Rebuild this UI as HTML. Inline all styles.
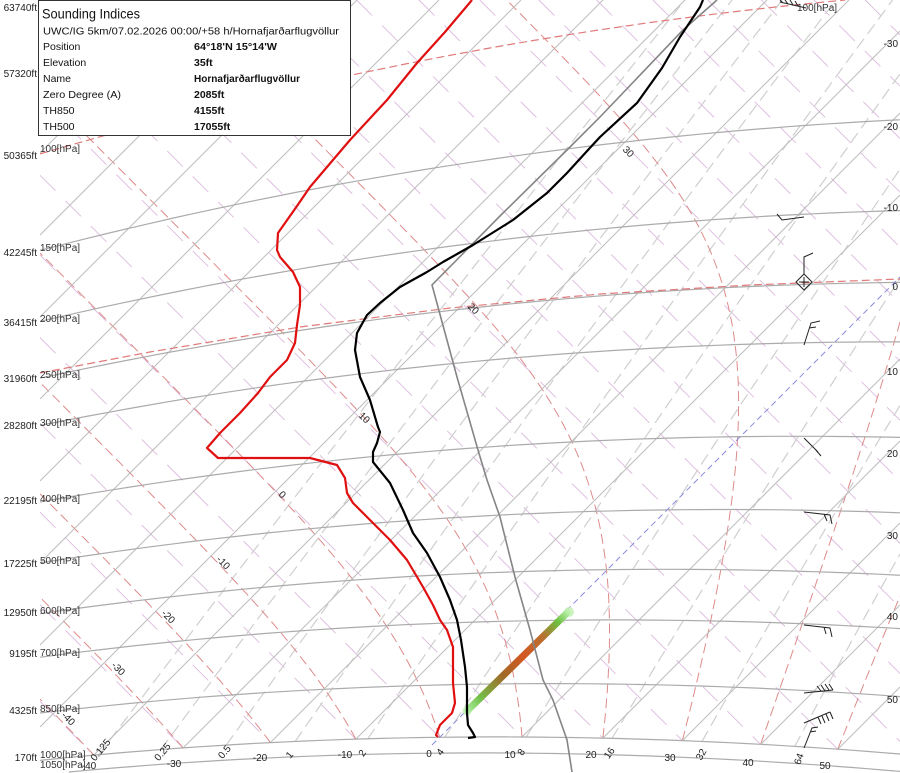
<!DOCTYPE html>
<html><head><meta charset="utf-8"><title>Sounding</title>
<style>
html,body{margin:0;padding:0;background:#fff;width:900px;height:773px;overflow:hidden;}
svg{display:block;overflow:hidden;font-family:"Liberation Sans",sans-serif;}
</style></head><body>
<svg id="s" width="900" height="773" viewBox="0 0 900 773" xmlns="http://www.w3.org/2000/svg">
<defs>
<clipPath id="cp"><polygon id="cpp" points="0,0 900,0 900,772 0,772"/></clipPath>
<clipPath id="cl"><rect x="40" y="0" width="860" height="773"/></clipPath>
<clipPath id="all"><rect x="0" y="0" width="900" height="773"/></clipPath>
<linearGradient id="ice" x1="468" y1="710" x2="568" y2="612" gradientUnits="userSpaceOnUse">
<stop offset="0" stop-color="#a8ec98"/>
<stop offset="0.12" stop-color="#74c04a"/>
<stop offset="0.35" stop-color="#a06a28"/>
<stop offset="0.55" stop-color="#d45822"/>
<stop offset="0.75" stop-color="#b87030"/>
<stop offset="0.9" stop-color="#6cc040"/>
<stop offset="1" stop-color="#b8f0a8"/>
</linearGradient>
</defs>
<g clip-path="url(#all)">
<rect width="900" height="773" fill="#fff"/>
<g clip-path="url(#cl)"><g id="grid" clip-path="url(#cp)"></g></g>
<g id="iso" clip-path="url(#cl)"></g>

<polyline points="40,373 150,352 300,327 450,308 600,294 750,285 900,279" fill="none" stroke="#e07a7a" stroke-width="1.2" stroke-dasharray="8 4"/>
<line x1="432" y1="745" x2="900" y2="277" stroke="#8a8ae0" stroke-width="1" stroke-dasharray="6 4"/>

<circle cx="569" cy="612" r="5" fill="#c0f0b0" opacity="0.8"/>
<circle cx="467" cy="711" r="4.5" fill="#c0f0b0" opacity="0.8"/>
<line x1="468" y1="710" x2="567" y2="613" stroke="url(#ice)" stroke-width="7" stroke-linecap="round"/>

<polyline points="717,0 683,30 600,117 567,150 500,216 432,285 457,377 478,450 487,480 500,517 515,577 530,630 543,680 553,700 567,740 572,772" fill="none" stroke="#858585" stroke-width="1.6"/>

<polyline points="472,0 445,32 417,63 387,100 350,140 310,187 297,206 278,233 277,250 280,257 293,272 300,287 300,305 297,325 295,343 287,360 270,377 258,393 240,413 220,433 207,448 218,458 310,458 337,465 345,478 347,493 353,503 372,522 390,540 407,560 423,587 433,605 440,620 447,630 453,647 453,683 455,703 452,713 440,725 436,735 438,737" fill="none" stroke="#e01010" stroke-width="2.2" stroke-linejoin="round"/>

<polyline points="703,0 700,7 690,22 680,37 662,68 637,103 600,137 588,150 567,173 547,193 513,220 473,245 443,262 427,272 400,287 380,303 367,315 357,333 355,350 360,377 370,400 378,427 380,432 377,443 373,452 373,462 390,483 403,510 413,533 427,553 440,577 450,600 457,620 461,640 465,667 467,687 467,713 468,725 473,733 475,737 468,738" fill="none" stroke="#000" stroke-width="2.2" stroke-linejoin="round"/>

<g fill="none" stroke="#222" stroke-width="1">
<path d="M806,8 L780,2 M783,3 L780,0 M788,4 L785,0 M793,5 L790,0 M798,6 L795,1"/>
<path d="M804,217 L782,220 L777,214"/>
<path d="M804,274 L812,282 L804,290 L796,282 Z M804,277 V287 M799,282 H809 M804,274 V257 L813,253"/>
<path d="M804,345 L811,323 L820,321 M809,328 L816,327"/>
<path d="M804,438 L818,452 M815,449 L821,456"/>
<path d="M804,512 L830,515 L832,524 M824,514 L827,521"/>
<path d="M804,625 L830,628 L832,637 M824,627 L826,634"/>
<path d="M804,693 L833,690 M833,690 L829,684 M829,690 L825,684 M825,691 L821,685 M821,691 L817,686"/>
<path d="M804,723 L830,712 M830,712 L833,719 M826,714 L829,721 M822,716 L825,723 M818,717 L821,724"/>
<path d="M804,748 L812,728 L818,727 M810,732 L816,731"/>
</g>

<g font-size="10" fill="#222" text-anchor="end">
<text x="37" y="11">63740ft</text>
<text x="37" y="77">57320ft</text>
<text x="37" y="159">50365ft</text>
<text x="37" y="256">42245ft</text>
<text x="37" y="326">36415ft</text>
<text x="37" y="382">31960ft</text>
<text x="37" y="429">28280ft</text>
<text x="37" y="504">22195ft</text>
<text x="37" y="567">17225ft</text>
<text x="37" y="616">12950ft</text>
<text x="37" y="657">9195ft</text>
<text x="37" y="714">4325ft</text>
<text x="37" y="761">170ft</text>
</g>
<g font-size="10" fill="#333">
<text x="40" y="152">100[hPa]</text>
<text x="40" y="251">150[hPa]</text>
<text x="40" y="322">200[hPa]</text>
<text x="40" y="378">250[hPa]</text>
<text x="40" y="426">300[hPa]</text>
<text x="40" y="502">400[hPa]</text>
<text x="40" y="564">500[hPa]</text>
<text x="40" y="614">600[hPa]</text>
<text x="40" y="656">700[hPa]</text>
<text x="40" y="712">850[hPa]</text>
<text x="40" y="758">1000[hPa]</text>
<text x="40" y="768">1050[hPa]</text>
<text x="797" y="11">100[hPa]</text>
</g>
<g font-size="10" fill="#222" text-anchor="middle">
<text x="89" y="769">-40</text>
<text x="174" y="767">-30</text>
<text x="260" y="761">-20</text>
<text x="345" y="758">-10</text>
<text x="429" y="757">0</text>
<text x="510" y="758">10</text>
<text x="591" y="758">20</text>
<text x="670" y="761">30</text>
<text x="748" y="766">40</text>
<text x="825" y="769">50</text>
</g>
<g font-size="10" fill="#222" text-anchor="end">
<text x="898" y="47">-30</text>
<text x="898" y="130">-20</text>
<text x="898" y="211">-10</text>
<text x="898" y="290">0</text>
<text x="898" y="375">10</text>
<text x="898" y="457">20</text>
<text x="898" y="539">30</text>
<text x="898" y="620">40</text>
<text x="898" y="703">50</text>
</g>
<g font-size="10" fill="#222" text-anchor="middle">
<text transform="translate(103,752) rotate(-50)">0.125</text>
<text transform="translate(165,754) rotate(-50)">0.25</text>
<text transform="translate(227,754) rotate(-50)">0.5</text>
<text transform="translate(292,757) rotate(-50)">1</text>
<text transform="translate(365,755) rotate(-55)">2</text>
<text transform="translate(443,754) rotate(-55)">4</text>
<text transform="translate(524,754) rotate(-55)">8</text>
<text transform="translate(612,755) rotate(-55)">16</text>
<text transform="translate(704,756) rotate(-60)">32</text>
<text transform="translate(802,760) rotate(-70)">64</text>
</g>
<g font-size="10" fill="#222" text-anchor="middle">
<text transform="translate(66,721) rotate(45)">-40</text>
<text transform="translate(116,671) rotate(45)">-30</text>
<text transform="translate(166,619) rotate(45)">-20</text>
<text transform="translate(221,565) rotate(45)">-10</text>
<text transform="translate(280,497) rotate(45)">0</text>
<text transform="translate(362,420) rotate(45)">10</text>
<text transform="translate(471,311) rotate(45)">20</text>
<text transform="translate(626,154) rotate(45)">30</text>
</g>

<rect x="38.5" y="0.5" width="312" height="135" fill="#fff" stroke="#333" stroke-width="1"/>
<g fill="#111">
<text x="42" y="18.5" font-size="13.5" textLength="98" lengthAdjust="spacingAndGlyphs">Sounding Indices</text>
<g font-size="10.5">
<text x="43" y="34.5" textLength="296" lengthAdjust="spacingAndGlyphs">UWC/IG 5km/07.02.2026 00:00/+58 h/Hornafjarðarflugvöllur</text>
<text x="43" y="50">Position</text>
<text x="43" y="66">Elevation</text>
<text x="43" y="82">Name</text>
<text x="43" y="98" textLength="78" lengthAdjust="spacingAndGlyphs">Zero Degree (A)</text>
<text x="43" y="114">TH850</text>
<text x="43" y="130">TH500</text>
</g>
<g font-size="10.5" font-weight="bold">
<text x="194" y="50" textLength="83" lengthAdjust="spacingAndGlyphs">64°18'N 15°14'W</text>
<text x="194" y="66">35ft</text>
<text x="194" y="82" textLength="106" lengthAdjust="spacingAndGlyphs">Hornafjarðarflugvöllur</text>
<text x="194" y="98">2085ft</text>
<text x="194" y="114">4155ft</text>
<text x="194" y="130">17055ft</text>
</g>
</g>
</g>
</svg>
<script>
(function(){
var K=8.2,A=1177,B=-13183.8,M=2297,KAP=0.2857,YMAX=772;
function P(T,p){var th=(T+273.15)*Math.pow(1000/p,KAP);var s=A+K*T,d=B+M*Math.log(th);return [(s+d)/2,(s-d)/2];}
var NS="http://www.w3.org/2000/svg";
function el(par,tag,at){var e=document.createElementNS(NS,tag);for(var k in at)e.setAttribute(k,at[k]);par.appendChild(e);return e;}
function inF(q){return q[0]>=40&&q[0]<=900&&q[1]>=0&&q[1]<=YMAX;}
function cross(a,b){var lo=a,hi=b;if(!inF(a)){lo=b;hi=a;}for(var i=0;i<30;i++){var m=[(lo[0]+hi[0])/2,(lo[1]+hi[1])/2];if(inF(m))lo=m;else hi=m;}return lo;}
function clipPoly(a){var out=[];for(var i=0;i<a.length;i++){var q=a[i],qi=inF(q);if(i>0){var pr=a[i-1],pi=inF(pr);if(qi!==pi)out.push(cross(pr,q));}if(qi)out.push(q);}return out;}
function pts(a){return clipPoly(a).map(function(q){return q[0].toFixed(1)+","+q[1].toFixed(1);}).join(" ");}
function rawpts(a){return a.map(function(q){return q[0].toFixed(1)+","+Math.max(0,Math.min(YMAX,q[1])).toFixed(1);}).join(" ");}
var c=[[0,0],[900,0]];
for(var T=90;T>=-90;T-=2)c.push(P(T,1000));
document.getElementById("cpp").setAttribute("points",rawpts(c));
var g=document.getElementById("grid");
for(var th=-70;th<=230;th+=10){var cc=B+M*Math.log(th+273.15);
 var y1=Math.max(0,40-cc),y2=Math.min(YMAX,900-cc);if(y2<=y1)continue;
 el(g,"line",{x1:(cc+y1).toFixed(1),y1:y1.toFixed(1),x2:(cc+y2).toFixed(1),y2:y2.toFixed(1),stroke:"#dcbade","stroke-width":"0.9","stroke-dasharray":"22 14"});}
var ws=[0.125,0.25,0.5,1,2,4,8,16,32,64];
ws.forEach(function(w){var a=[];for(var p=1000;p>=60;p-=10){var e=w*p/(622+w);var l=Math.log(e/6.112);var td=243.5*l/(17.67-l);a.push(P(td,p));}
 var s=pts(a);if(s)el(g,"polyline",{points:s,fill:"none",stroke:"#cfcfcf","stroke-width":"1.2","stroke-dasharray":"12 6"});});
function es(Tc){return 6.112*Math.exp(17.67*Tc/(Tc+243.5));}
function f(p,T){var e=es(T-273.15);var rs=0.622*e/(p-e);return (287.04*T+2.501e6*rs)/(p*(1005.7+2.501e6*2.501e6*rs*0.622/(287.04*T*T)));}
for(var tw=-50;tw<=60;tw+=10){var Tk=tw+273.15,p=1000,arr=[P(tw,1000)],h=-5;
 while(p>55){var k1=f(p,Tk),k2=f(p+h/2,Tk+h/2*k1),k3=f(p+h/2,Tk+h/2*k2),k4=f(p+h,Tk+h*k3);Tk+=h/6*(k1+2*k2+2*k3+k4);p+=h;arr.push(P(Tk-273.15,p));}
 var s=pts(arr);if(s)el(g,"polyline",{points:s,fill:"none",stroke:"#de8a8a","stroke-width":"1","stroke-dasharray":"10 5"});}
for(var t=-150;t<=70;t+=10){if(t===0)continue;var s0=A+K*t;
 var yb=Math.min(YMAX,s0-40),yt=Math.max(0,s0-900);if(yb<=yt)continue;
 el(g,"line",{x1:(s0-yb).toFixed(1),y1:yb.toFixed(1),x2:(s0-yt).toFixed(1),y2:yt.toFixed(1),stroke:"#bdbdbd","stroke-width":"1"});}
var iso=document.getElementById("iso");
[1050,1000,850,700,600,500,400,300,250,200,150].forEach(function(pp){var a=[];for(var T=-150;T<=90;T+=2)a.push(P(T,pp));
 var s=pts(a);if(s)el(iso,"polyline",{points:s,fill:"none",stroke:"#ababab","stroke-width":"1.2"});});
var a=[];for(var T=-150;T<=90;T+=2)a.push(P(T,100));
el(iso,"polyline",{points:pts(a),fill:"none",stroke:"#e07a7a","stroke-width":"1.2","stroke-dasharray":"8 4"});
})();
</script>
</body></html>
